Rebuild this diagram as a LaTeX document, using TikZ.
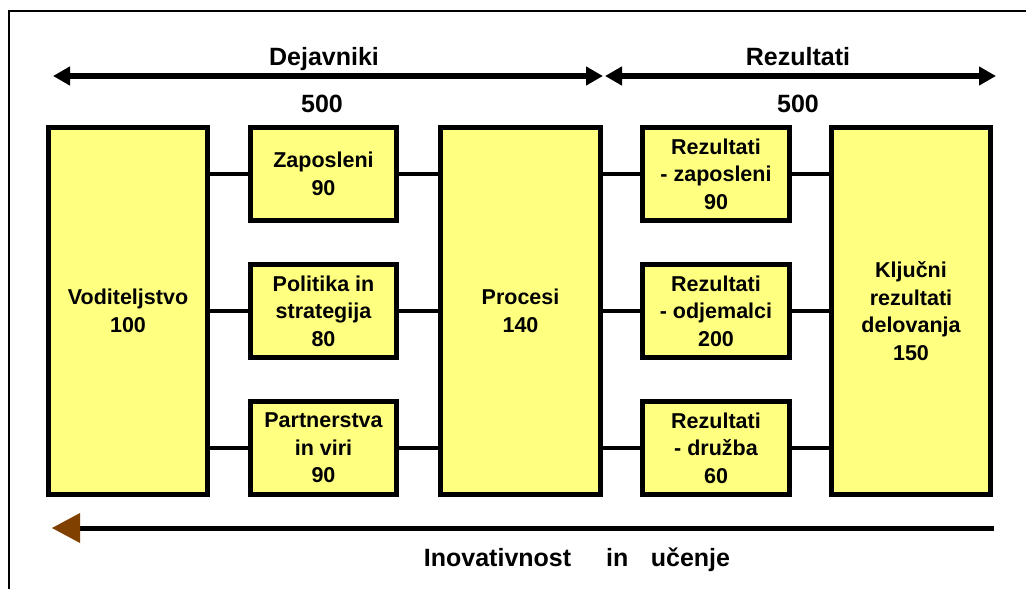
\documentclass[tikz,border=0pt]{standalone}
\usepackage{fontspec}
\setmainfont{Liberation Sans}
\usetikzlibrary{arrows.meta}
\definecolor{boxyellow}{RGB}{255,255,128}
\definecolor{tipbrown}{RGB}{128,64,0}
\tikzset{
  box/.style={draw=black, line width=5pt, fill=boxyellow, align=center,
    inner sep=0pt, font=\fontsize{21.5}{27.5}\selectfont\bfseries},
  link/.style={line width=4.5pt},
  heading/.style={anchor=base, font=\fontsize{25}{30}\selectfont\bfseries},
  bigarrow/.style={line width=5.5pt, {Triangle[length=17pt,width=18pt]}-{Triangle[length=17pt,width=18pt]}},
}
\begin{document}
\begin{tikzpicture}[x=1pt,y=-1pt]
\useasboundingbox (0,0) rectangle (1026,589);
% frame
\draw[line width=2.5pt] (9,589) -- (9,11) -- (1026,11);
% boxes
\node[box, minimum width=159pt, minimum height=367pt] (V) at (128,311) {Voditeljstvo\\100};
\node[box, minimum width=146pt, minimum height=93pt] (Z) at (323.5,174) {Zaposleni\\90};
\node[box, minimum width=146pt, minimum height=93pt] (P) at (323.5,311) {Politika in\\strategija\\80};
\node[box, minimum width=146pt, minimum height=93pt] (R) at (323.5,448) {Partnerstva\\in viri\\90};
\node[box, minimum width=160pt, minimum height=367pt] (PR) at (520.5,311) {Procesi\\140};
\node[box, minimum width=147pt, minimum height=93pt] (RZ) at (716,174) {Rezultati\\- zaposleni\\90};
\node[box, minimum width=147pt, minimum height=93pt] (RO) at (716,311) {Rezultati\\- odjemalci\\200};
\node[box, minimum width=147pt, minimum height=93pt] (RD) at (716,448) {Rezultati\\- družba\\60};
\node[box, minimum width=159pt, minimum height=367pt] (K) at (911,311) {Ključni\\rezultati\\delovanja\\150};
% connectors
\draw[link] (V.east |- Z.west) -- (Z.west);
\draw[link] (V.east |- P.west) -- (P.west);
\draw[link] (V.east |- R.west) -- (R.west);
\draw[link] (Z.east) -- (PR.west |- Z.east);
\draw[link] (P.east) -- (PR.west |- P.east);
\draw[link] (R.east) -- (PR.west |- R.east);
\draw[link] (PR.east |- RZ.west) -- (RZ.west);
\draw[link] (PR.east |- RO.west) -- (RO.west);
\draw[link] (PR.east |- RD.west) -- (RD.west);
\draw[link] (RZ.east) -- (K.west |- RZ.east);
\draw[link] (RO.east) -- (K.west |- RO.east);
\draw[link] (RD.east) -- (K.west |- RD.east);
% top arrows
\coordinate (dl) at (53,76);
\coordinate (dr) at (603,76);
\coordinate (rl) at (605,76);
\coordinate (rr) at (996,76);
\draw[bigarrow] (dl) -- (dr);
\draw[bigarrow] (rl) -- (rr);
\node[heading] (dej) at (324,65) {Dejavniki};
\node[heading] (d500) at (322,112) {500};
\node[heading] (rez) at (798,65) {Rezultati};
\node[heading] (r500) at (798,112) {500};
% bottom arrow
\coordinate (ia) at (994,528);
\coordinate (ib) at (78,528);
\coordinate (tip) at (52,528);
\draw[line width=5pt] (ia) -- (ib);
\fill[tipbrown] (80,513) -- (tip) -- (80,543) -- cycle;
\node[heading] (inov) at (577,566) {Inovativnost\hspace{1.4em}in\hspace{0.9em}učenje};
\end{tikzpicture}
\end{document}
